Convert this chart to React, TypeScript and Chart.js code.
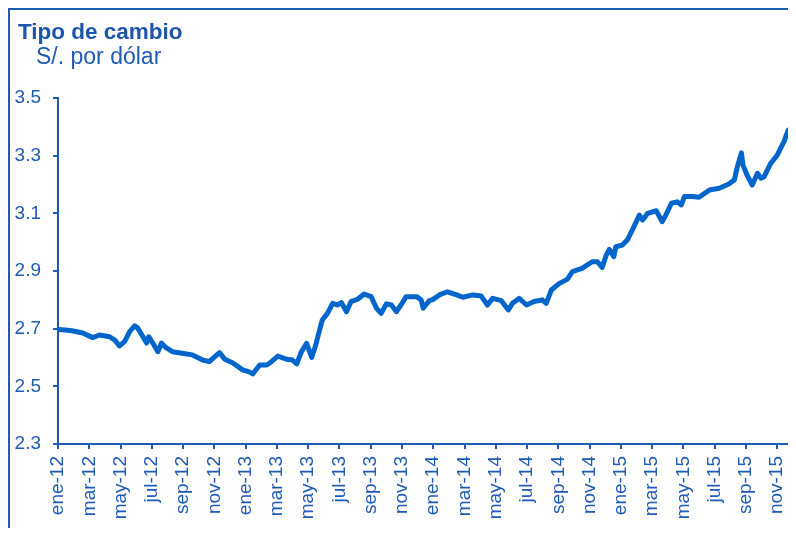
import { useEffect, useRef } from "react";
import { Chart, registerables } from "chart.js";

Chart.register(...registerables);

const titleText = "Tipo de cambio";
const subtitleText = "S/. por dólar";

const tickLabels = [
  "ene-12", "mar-12", "may-12", "jul-12", "sep-12", "nov-12",
  "ene-13", "mar-13", "may-13", "jul-13", "sep-13", "nov-13",
  "ene-14", "mar-14", "may-14", "jul-14", "sep-14", "nov-14",
  "ene-15", "mar-15", "may-15", "jul-15", "sep-15", "nov-15",
];

const yTicks = [2.3, 2.5, 2.7, 2.9, 3.1, 3.3, 3.5];

const dates = [
  "2012-01-02", "2012-01-15", "2012-01-29", "2012-02-18", "2012-03-08", "2012-03-21",
  "2012-04-10", "2012-04-20", "2012-04-29", "2012-05-09", "2012-05-19", "2012-05-29",
  "2012-06-04", "2012-06-12", "2012-06-21", "2012-06-25", "2012-07-03", "2012-07-13",
  "2012-07-20", "2012-07-30", "2012-08-11", "2012-08-30", "2012-09-19", "2012-10-09",
  "2012-10-22", "2012-11-02", "2012-11-11", "2012-11-21", "2012-12-06", "2012-12-26",
  "2013-01-08", "2013-01-15", "2013-01-29", "2013-02-11", "2013-02-17", "2013-03-03",
  "2013-03-20", "2013-04-01", "2013-04-09", "2013-04-18", "2013-04-28", "2013-05-08",
  "2013-05-16", "2013-05-21", "2013-05-29", "2013-06-08", "2013-06-18", "2013-06-27",
  "2013-07-05", "2013-07-15", "2013-07-24", "2013-08-06", "2013-08-19", "2013-09-02",
  "2013-09-12", "2013-09-21", "2013-10-01", "2013-10-11", "2013-10-21", "2013-10-30",
  "2013-11-09", "2013-11-29", "2013-12-08", "2013-12-12", "2013-12-24", "2013-12-30",
  "2014-01-13", "2014-01-29", "2014-02-15", "2014-02-26", "2014-03-17", "2014-04-03",
  "2014-04-15", "2014-04-25", "2014-05-12", "2014-05-26", "2014-06-03", "2014-06-16",
  "2014-06-30", "2014-07-15", "2014-07-31", "2014-08-08", "2014-08-18", "2014-09-03",
  "2014-09-18", "2014-09-28", "2014-10-17", "2014-11-06", "2014-11-16", "2014-11-25",
  "2014-12-03", "2014-12-09", "2014-12-18", "2014-12-22", "2015-01-04", "2015-01-14",
  "2015-01-27", "2015-02-06", "2015-02-12", "2015-02-21", "2015-03-09", "2015-03-21",
  "2015-03-28", "2015-04-08", "2015-04-19", "2015-04-27", "2015-05-03", "2015-05-18",
  "2015-06-01", "2015-06-21", "2015-07-10", "2015-07-29", "2015-08-09", "2015-08-15",
  "2015-08-23", "2015-08-26", "2015-09-03", "2015-09-13", "2015-09-23", "2015-09-30",
  "2015-10-06", "2015-10-19", "2015-11-01", "2015-11-09", "2015-11-14", "2015-11-22",
  "2015-11-30", "2015-12-07",
];

const values = [
  2.697, 2.695, 2.693, 2.685, 2.669, 2.678,
  2.672, 2.660, 2.640, 2.655, 2.690, 2.710,
  2.702, 2.678, 2.650, 2.672, 2.650, 2.620,
  2.650, 2.633, 2.620, 2.615, 2.609, 2.591,
  2.586, 2.603, 2.617, 2.594, 2.582, 2.557,
  2.550, 2.543, 2.574, 2.574, 2.582, 2.605,
  2.594, 2.591, 2.578, 2.620, 2.649, 2.600,
  2.643, 2.678, 2.730, 2.753, 2.788, 2.782,
  2.790, 2.759, 2.794, 2.802, 2.820, 2.811,
  2.771, 2.753, 2.786, 2.782, 2.759, 2.782,
  2.811, 2.811, 2.800, 2.771, 2.797, 2.800,
  2.817, 2.828, 2.817, 2.809, 2.817, 2.813,
  2.782, 2.805, 2.797, 2.765, 2.788, 2.805,
  2.782, 2.794, 2.800, 2.788, 2.834, 2.857,
  2.871, 2.898, 2.909, 2.932, 2.932, 2.912,
  2.955, 2.975, 2.950, 2.984, 2.990, 3.008,
  3.054, 3.094, 3.077, 3.100, 3.109, 3.071,
  3.094, 3.135, 3.140, 3.129, 3.158, 3.158,
  3.156, 3.181, 3.187, 3.202, 3.216, 3.262,
  3.310, 3.268, 3.233, 3.198, 3.239, 3.222,
  3.227, 3.273, 3.302, 3.331, 3.349, 3.389,
  3.378, 3.372,
];

const AXIS = "#1F5AB4";
const TEXT = "#1F5AB4";
const TITLE = "#1B56AA";
const LINE = "#0066CC";
const FONT = "'Liberation Sans', Arial, sans-serif";

function monthPos(d: string): number {
  const [y, m, dd] = d.split("-").map(Number);
  const dim = new Date(y, m, 0).getDate();
  return (y - 2012) * 12 + (m - 1) + (dd - 1) / dim;
}

const titlePlugin = {
  id: "titles",
  afterDraw(chart: any) {
    const ctx = chart.ctx;
    ctx.save();
    ctx.fillStyle = TITLE;
    ctx.textAlign = "left";
    ctx.textBaseline = "alphabetic";
    ctx.font = `bold 22.5px ${FONT}`;
    ctx.fillText(titleText, 8, 29);
    ctx.fillStyle = TEXT;
    ctx.font = `23px ${FONT}`;
    ctx.fillText(subtitleText, 26, 54);
    ctx.restore();
  },
};

export default function App() {
  const ref = useRef<HTMLCanvasElement | null>(null);

  useEffect(() => {
    document.documentElement.style.overflow = "hidden";
    document.body.style.overflow = "hidden";
    if (!ref.current) return;
    const points = dates.map((d, i) => ({ x: monthPos(d), y: values[i] }));
    const chart = new Chart(ref.current, {
      type: "line",
      data: {
        datasets: [
          {
            label: "Tipo de cambio",
            data: points,
            borderColor: LINE,
            borderWidth: 5,
            pointRadius: 0,
            tension: 0,
            borderJoinStyle: "round",
            borderCapStyle: "round",
            fill: false,
          },
        ],
      },
      options: {
        animation: false,
        responsive: false,
        maintainAspectRatio: false,
        devicePixelRatio: 1,
        layout: { padding: { top: 88, left: 0, right: 0, bottom: 0 }, autoPadding: false },
        plugins: {
          legend: { display: false },
          tooltip: { enabled: false },
          title: { display: false },
        },
        scales: {
          x: {
            type: "linear",
            position: "bottom",
            min: 0,
            max: 47.2,
            afterBuildTicks: (s: any) => {
              s.ticks = tickLabels.map((_, i) => ({ value: i * 2 }));
            },
            afterFit: (s: any) => {
              s.height = 92;
              s.paddingLeft = 0;
              s.paddingRight = 0;
            },
            ticks: {
              autoSkip: false,
              maxRotation: 90,
              minRotation: 90,
              padding: 7,
              color: TEXT,
              font: { family: FONT, size: 19 },
              callback: (_v: any, i: number) => tickLabels[i],
            },
            grid: {
              drawOnChartArea: false,
              drawTicks: true,
              tickLength: 5,
              color: AXIS,
              lineWidth: 2,
            },
            border: { color: AXIS, width: 2 },
          },
          y: {
            type: "linear",
            min: 2.3,
            max: 3.5,
            afterBuildTicks: (s: any) => {
              s.ticks = yTicks.map((v) => ({ value: v }));
            },
            afterFit: (s: any) => {
              s.width = 48;
              s.paddingTop = 0;
              s.paddingBottom = 0;
            },
            ticks: {
              padding: 12,
              color: TEXT,
              font: { family: FONT, size: 19 },
              callback: (v: any) => Number(v).toFixed(1),
            },
            grid: {
              drawOnChartArea: false,
              drawTicks: true,
              tickLength: 5,
              color: AXIS,
              lineWidth: 2,
            },
            border: { color: AXIS, width: 2 },
          },
        },
      } as any,
      plugins: [titlePlugin],
    });
    return () => chart.destroy();
  }, []);

  return (
    <div
      style={{
        position: "relative",
        width: 786,
        height: 526,
        marginBottom: -8,
        borderTop: `2px solid ${AXIS}`,
        borderLeft: `2px solid ${AXIS}`,
        overflow: "hidden",
      }}
    >
      <canvas ref={ref} width={786} height={526} style={{ display: "block", width: 786, height: 526 }} />
    </div>
  );
}
